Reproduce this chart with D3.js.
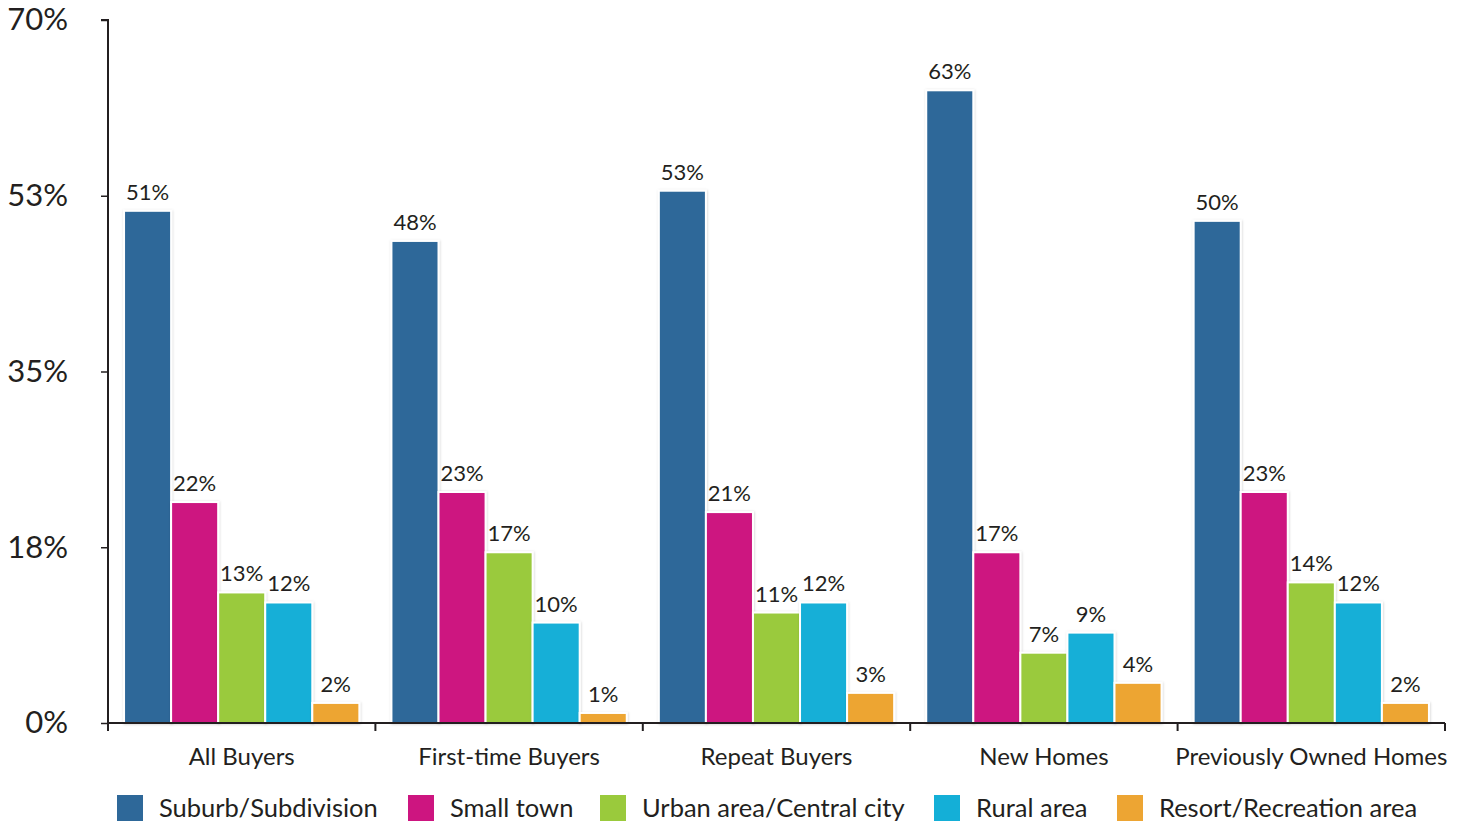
<!DOCTYPE html>
<html>
<head>
<meta charset="utf-8">
<script src="https://cdn.jsdelivr.net/npm/d3@7"></script>
<style>
  html, body { margin: 0; padding: 0; background: #fff; }
  svg { display: block; font-family: Lato, "Open Sans", sans-serif; }
</style>
</head>
<body>
<svg id="chart" width="1466" height="823"></svg>
<script>
// Buyer groups along the x axis
const categories = ["All Buyers", "First-time Buyers", "Repeat Buyers", "New Homes", "Previously Owned Homes"];

// Share of buyers by neighborhood type (%)
const seriesNames = ["Suburb/Subdivision", "Small town", "Urban area/Central city", "Rural area", "Resort/Recreation area"];
const suburb  = [51, 48, 53, 63, 50];
const smallTown = [22, 23, 21, 17, 23];
const urban   = [13, 17, 11, 7, 14];
const rural   = [12, 10, 12, 9, 12];
const resort  = [2, 1, 3, 4, 2];
const seriesValues = [suburb, smallTown, urban, rural, resort];

// Y axis ticks and their labels
const yTicks = [0, 17.5, 35, 52.5, 70];
const yTickLabels = ["0%", "18%", "35%", "53%", "70%"];

const colors = ["#2e6899", "#cd1580", "#9aca3c", "#14afd7", "#eda533"];

const svg = d3.select("#chart");
const margin = { left: 108, right: 21, top: 20, bottom: 100 };
const W = 1466, H = 823;
const plotBottom = 723;

const x0 = d3.scaleBand()
  .domain(categories)
  .range([margin.left, W - margin.right])
  .paddingInner(0.12)
  .paddingOuter(0.06);

const x1 = d3.scaleBand()
  .domain(seriesNames)
  .range([0, x0.bandwidth()])
  .padding(0);

const y = d3.scaleLinear().domain([0, 70]).range([plotBottom, margin.top]);

// Soft shadow under the bars
const defs = svg.append("defs");
const f = defs.append("filter").attr("id", "shadow")
  .attr("x", "-20%").attr("y", "-20%").attr("width", "140%").attr("height", "140%");
f.append("feDropShadow").attr("dx", 0.5).attr("dy", 0.5).attr("stdDeviation", 1)
  .attr("flood-color", "#000").attr("flood-opacity", 0.18);

// Bars
const groups = svg.append("g").selectAll("g")
  .data(categories)
  .join("g")
  .attr("transform", d => `translate(${x0(d)},0)`);

groups.each(function (cat, ci) {
  const g = d3.select(this);
  const rows = seriesNames.map((s, si) => ({ s, si, v: seriesValues[si][ci] }));
  g.selectAll("rect")
    .data(rows)
    .join("rect")
    .attr("x", d => x1(d.s))
    .attr("y", d => y(d.v))
    .attr("width", x1.bandwidth())
    .attr("height", d => plotBottom - y(d.v))
    .attr("fill", d => colors[d.si])
    .attr("stroke", "#fff")
    .attr("stroke-width", 2)
    .attr("filter", "url(#shadow)");
  g.selectAll("text")
    .data(rows)
    .join("text")
    .attr("x", d => x1(d.s) + x1.bandwidth() / 2)
    .attr("y", d => y(d.v) - 11)
    .attr("text-anchor", "middle")
    .attr("font-size", 22)
    .attr("fill", "#231f20")
    .text(d => d.v + "%");
});

// Y axis
const yAxis = d3.axisLeft(y)
  .tickValues(yTicks)
  .tickFormat((d, i) => yTickLabels[i])
  .tickSize(7)
  .tickPadding(33);
const yg = svg.append("g").attr("transform", `translate(${margin.left},0)`).call(yAxis);
yg.select(".domain").attr("stroke", "#231f20").attr("stroke-width", 2)
  .attr("d", `M-7,${y(70)}H0V${plotBottom}`);
yg.selectAll(".tick line").attr("stroke", "#231f20").attr("stroke-width", 1.5);
yg.selectAll(".tick text").attr("font-size", 31).attr("fill", "#231f20")
  .attr("font-family", "Lato, sans-serif");

// X axis with boundary ticks between groups
const xg = svg.append("g").attr("transform", `translate(0,${plotBottom})`);
xg.append("line").attr("x1", margin.left).attr("x2", W - margin.right)
  .attr("y1", 0).attr("y2", 0).attr("stroke", "#231f20").attr("stroke-width", 2);
const boundaries = d3.range(categories.length + 1).map(i => margin.left + i * (W - margin.left - margin.right) / categories.length);
xg.selectAll("line.b").data(boundaries).join("line").attr("class", "b")
  .attr("x1", d => d).attr("x2", d => d).attr("y1", 0).attr("y2", 8)
  .attr("stroke", "#231f20").attr("stroke-width", 2);
xg.selectAll("text").data(categories).join("text")
  .attr("x", d => x0(d) + x0.bandwidth() / 2)
  .attr("y", 42)
  .attr("text-anchor", "middle")
  .attr("font-size", 24)
  .attr("fill", "#231f20")
  .text(d => d);

// Legend
const legendX = [117, 408, 600, 934, 1117];
const lg = svg.append("g").attr("transform", "translate(0,795)");
seriesNames.forEach((s, i) => {
  lg.append("rect").attr("x", legendX[i]).attr("y", 0).attr("width", 26).attr("height", 26)
    .attr("fill", colors[i]);
  lg.append("text").attr("x", legendX[i] + 42).attr("y", 22)
    .attr("font-size", 25.5).attr("fill", "#231f20").text(s);
});
</script>
</body>
</html>
